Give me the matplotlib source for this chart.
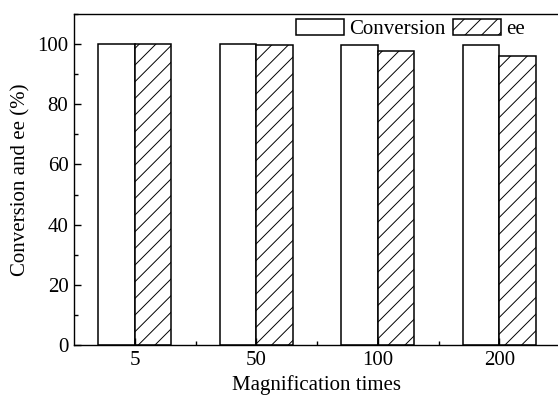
import matplotlib
matplotlib.use("Agg")
import matplotlib.pyplot as plt
import numpy as np
from matplotlib.ticker import MultipleLocator, FixedLocator

plt.rcParams['font.family'] = ['Liberation Serif', 'DejaVu Serif']
plt.rcParams['hatch.linewidth'] = 0.7

categories = ["5", "50", "100", "200"]
conversion = [100, 100, 99.7, 99.7]
ee = [100, 99.8, 97.8, 96.0]

fig = plt.figure(figsize=(5.58, 3.96), dpi=100)
ax = fig.add_axes([74 / 558, 51 / 396, 486 / 558, 331 / 396])

x = np.arange(len(categories))
w = 0.3
ax.bar(x - w / 2, conversion, w, facecolor='white', edgecolor='black', linewidth=1.1, label='Conversion')
ax.bar(x + w / 2, ee, w, facecolor='white', edgecolor='black', linewidth=1.1, hatch='//', label='ee')

ax.set_xlim(-0.5, 3.5)
ax.set_ylim(0, 110)
ax.set_xticks(x)
ax.set_xticklabels(categories)
ax.xaxis.set_minor_locator(FixedLocator(x[:-1] + 0.5))
ax.yaxis.set_major_locator(MultipleLocator(20))
ax.yaxis.set_minor_locator(MultipleLocator(10))
ax.tick_params(axis='both', which='major', direction='in', length=5, width=1, labelsize=15, pad=4)
ax.tick_params(axis='both', which='minor', direction='in', length=3, width=1)
ax.tick_params(top=False, right=False)
for s in ax.spines.values():
    s.set_linewidth(1.0)
ax.spines['right'].set_visible(False)

ax.set_xlabel('Magnification times', fontsize=15, labelpad=4)
ax.set_ylabel('Conversion and ee (%)', fontsize=15, labelpad=5)

fig.legend(*ax.get_legend_handles_labels(), loc='center left',
           bbox_to_anchor=(296 / 558, 1 - 29 / 396), ncol=2, frameon=False, fontsize=15,
           handlelength=2.3, handleheight=0.77, handletextpad=0.25, columnspacing=0.38,
           borderaxespad=0, borderpad=0)

fig.savefig('out.png', dpi=100)
